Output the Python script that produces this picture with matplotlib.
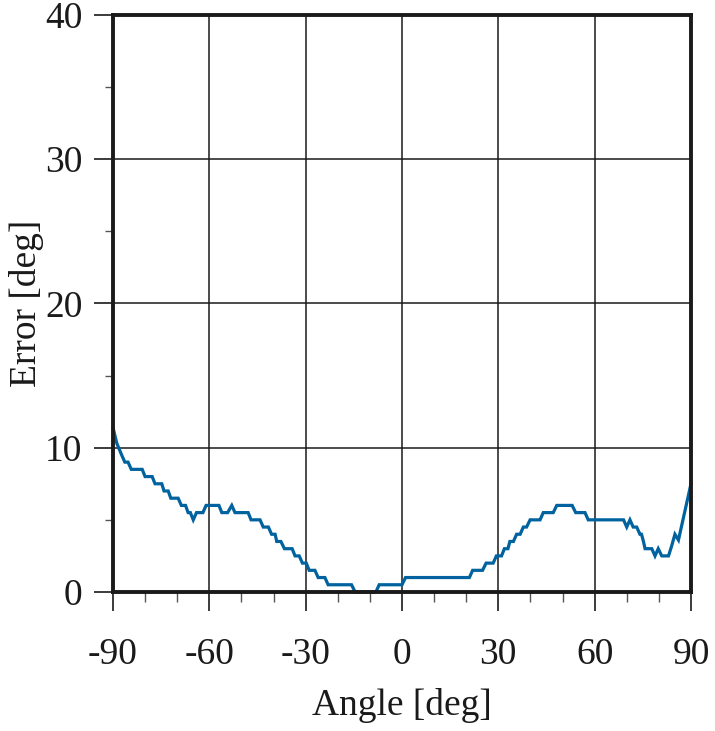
import matplotlib
matplotlib.use("Agg")
import matplotlib.pyplot as plt
from matplotlib.ticker import MultipleLocator

plt.rcParams['font.family'] = ['Liberation Serif', 'DejaVu Serif']

# Estimation error versus source angle
angle_deg = [-90, -88.8, -87.3, -86.3, -85.3, -84.3, -80.9, -80.0, -77.8, -76.9,
             -74.8, -74.1, -72.8, -72.0, -69.7, -68.7, -67.4, -66.6, -65.9, -65.0,
             -64.0, -62.0, -61.0, -57.0, -56.1, -54.3, -53.0, -52.0, -47.9, -47.0,
             -44.2, -43.2, -41.6, -40.6, -39.5, -39.0, -37.7, -36.6, -34.2, -33.3,
             -32.0, -31.0, -29.8, -28.9, -27.1, -26.1, -24.0, -23.0, -15.7, -14.6,
             -8.1, -7.1, 0.0, 1.1, 21.0, 22.0, 25.1, 26.2, 28.4, 29.4,
             31.0, 31.9, 33.0, 33.6, 34.7, 35.7, 36.8, 37.8, 38.8, 39.9,
             43.0, 44.0, 47.1, 48.2, 53.0, 54.1, 57.0, 58.0, 69.0, 70.0,
             71.0, 72.0, 73.1, 74.1, 74.6, 75.2, 75.7, 77.8, 78.8, 79.8,
             80.9, 83.0, 84.0, 85.0, 86.1, 90.0]
error_deg = [11.4, 10.3, 9.5, 9.0, 9.0, 8.5, 8.5, 8.0, 8.0, 7.5,
             7.5, 7.0, 7.0, 6.5, 6.5, 6.0, 6.0, 5.5, 5.5, 5.0,
             5.5, 5.5, 6.0, 6.0, 5.5, 5.5, 6.0, 5.5, 5.5, 5.0,
             5.0, 4.5, 4.5, 4.0, 4.0, 3.5, 3.5, 3.0, 3.0, 2.5,
             2.5, 2.0, 2.0, 1.5, 1.5, 1.0, 1.0, 0.5, 0.5, 0.0,
             0.0, 0.5, 0.5, 1.0, 1.0, 1.5, 1.5, 2.0, 2.0, 2.5,
             2.5, 3.0, 3.0, 3.5, 3.5, 4.0, 4.0, 4.5, 4.5, 5.0,
             5.0, 5.5, 5.5, 6.0, 6.0, 5.5, 5.5, 5.0, 5.0, 4.5,
             5.0, 4.5, 4.5, 4.0, 4.0, 3.5, 3.0, 3.0, 2.5, 3.0,
             2.5, 2.5, 3.2, 4.0, 3.6, 7.5]

x_ticks = [-90, -60, -30, 0, 30, 60, 90]
y_ticks = [0, 10, 20, 30, 40]

fig = plt.figure(figsize=(7.15, 7.31), dpi=100)
ax = fig.add_axes([0.158, 0.1902, 0.8084, 0.7893])

ax.plot(angle_deg, error_deg, color='#00629e', lw=2.3, clip_on=False, zorder=2,
        solid_joinstyle='miter')

ax.set_xlim(-90, 90)
ax.set_ylim(0, 40)
ax.set_xticks(x_ticks)
ax.set_yticks(y_ticks)
ax.set_xticklabels([str(v) for v in x_ticks])
ax.xaxis.set_minor_locator(MultipleLocator(10))
ax.yaxis.set_minor_locator(MultipleLocator(5))

ax.grid(True, which='major', color='#1a1a1a', lw=1.1)
ax.set_axisbelow(True)

for s in ax.spines.values():
    s.set_linewidth(2.8)
    s.set_color('#1a1a1a')
    s.set_zorder(3)

ax.tick_params(axis='both', which='major', direction='out', length=14, width=1.2,
               color='#1a1a1a', labelsize=27, labelcolor='#1a1a1a')
ax.tick_params(axis='x', which='minor', direction='out', length=7, width=1.0,
               color='#555555')
ax.tick_params(axis='y', which='minor', direction='out', length=6, width=1.0,
               color='#555555')
ax.tick_params(axis='x', which='major', pad=19)
ax.tick_params(axis='y', which='major', pad=8)

ax.set_xlabel('Angle [deg]', fontsize=27, color='#1a1a1a', labelpad=11)
ax.set_ylabel('Error [deg]', fontsize=27, color='#1a1a1a', labelpad=1)

fig.savefig('out.png', dpi=100)
